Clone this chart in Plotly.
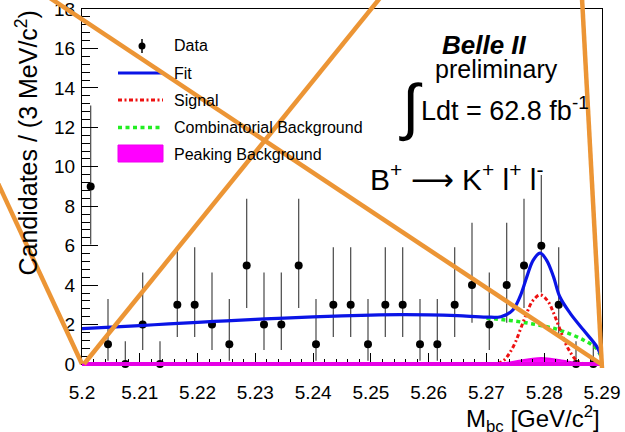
import plotly.graph_objects as go

# ---------------- data ----------------
bin_centers = [5.2015, 5.2045, 5.2075, 5.2105, 5.2135, 5.2165, 5.2195, 5.2225, 5.2255, 5.2285,
               5.2315, 5.2345, 5.2375, 5.2405, 5.2435, 5.2465, 5.2495, 5.2525, 5.2555, 5.2585,
               5.2615, 5.2645, 5.2675, 5.2705, 5.2735, 5.2765, 5.2795, 5.2825, 5.2855, 5.2885]
counts = [9, 1, 0, 2, 0, 3, 3, 2, 1, 5,
          2, 2, 5, 1, 3, 3, 1, 3, 3, 1,
          1, 3, 4, 2, 4, 5, 6, 3, 0, 0]
err_up = [4.11, 2.30, 1.15, 2.64, 1.15, 2.92, 2.92, 2.64, 2.30, 3.38,
          2.64, 2.64, 3.38, 2.30, 2.92, 2.92, 2.30, 2.92, 2.92, 2.30,
          2.30, 2.92, 3.16, 2.64, 3.16, 3.38, 3.58, 2.92, 1.15, 1.15]
err_dn = [2.94, 0.83, 0.00, 1.29, 0.00, 1.63, 1.63, 1.29, 0.83, 2.16,
          1.29, 1.29, 2.16, 0.83, 1.63, 1.63, 0.83, 1.63, 1.63, 0.83,
          0.83, 1.63, 1.91, 1.29, 1.91, 2.16, 2.38, 1.63, 0.00, 0.00]

fit_x = [5.200, 5.205, 5.210, 5.215, 5.220, 5.225, 5.230, 5.235, 5.240, 5.245,
         5.250, 5.255, 5.260, 5.265, 5.270, 5.2725, 5.2745, 5.2758, 5.2770, 5.2781,
         5.2793, 5.2804, 5.2816, 5.2827, 5.2845, 5.2868, 5.2891, 5.2900]
fit_y = [1.79, 1.87, 1.95, 2.03, 2.11, 2.19, 2.26, 2.33, 2.39, 2.44,
         2.48, 2.50, 2.49, 2.45, 2.38, 2.40, 2.72, 3.41, 4.43, 5.27,
         5.62, 5.27, 4.43, 3.41, 2.57, 1.72, 0.88, 0.30]

sig_x = [5.2720, 5.2730, 5.2740, 5.2750, 5.2760, 5.2770, 5.2780, 5.2793,
         5.2806, 5.2816, 5.2826, 5.2836, 5.2846, 5.2856, 5.2866]
sig_y = [0.03, 0.18, 0.55, 1.10, 1.85, 2.60, 3.20, 3.50,
         3.20, 2.60, 1.85, 1.10, 0.55, 0.18, 0.03]

comb_x = [5.2700, 5.2720, 5.2740, 5.2760, 5.2780, 5.2800, 5.2820, 5.2840,
          5.2860, 5.2870, 5.2880, 5.2890, 5.2900]
comb_y = [2.32, 2.27, 2.21, 2.13, 2.03, 1.92, 1.78, 1.58,
          1.33, 1.18, 1.02, 0.80, 0.30]

peak_x = [5.2000, 5.2700, 5.2720, 5.2740, 5.2760, 5.2780, 5.2795, 5.2810,
          5.2830, 5.2850, 5.2870, 5.2900]
peak_y = [0.00, 0.00, 0.02, 0.08, 0.18, 0.27, 0.30, 0.27,
          0.18, 0.08, 0.02, 0.00]

legend_labels = ["Data", "Fit", "Signal", "Combinatorial Background", "Peaking Background"]

FONT = "Liberation Sans, Arial, Helvetica, sans-serif"
ORANGE = "#EC9535"

# plot area in pixels: x 82..602, y 9..364
L, R, T, B = 82, 602, 9, 364
def px(x):
    return (x - L) / (R - L)
def py(y):
    return (B - y) / (B - T)

fig = go.Figure()

fig.add_trace(go.Scatter(
    x=bin_centers, y=counts, mode="markers",
    marker=dict(color="black", size=8),
    error_y=dict(type="data", symmetric=False, array=err_up, arrayminus=err_dn,
                 color="#555555", thickness=1.3, width=0),
    cliponaxis=False, showlegend=False))

fig.add_trace(go.Scatter(
    x=comb_x, y=comb_y, mode="lines", line=dict(color="#22ee22", width=3.5, dash="4px,3.5px", shape="spline"),
    showlegend=False))
fig.add_trace(go.Scatter(
    x=sig_x, y=sig_y, mode="lines", line=dict(color="#ee1111", width=3, dash="4px,2.5px,2px,2.5px", shape="spline"),
    showlegend=False))
fig.add_trace(go.Scatter(
    x=fit_x, y=fit_y, mode="lines", line=dict(color="#0a14e6", width=3.2, shape="spline"),
    showlegend=False))
fig.add_trace(go.Scatter(
    x=peak_x, y=peak_y, mode="lines", fill="tozeroy", fillcolor="#ff00ff",
    line=dict(color="#ee00ee", width=2, shape="spline"), showlegend=False))

shapes = []
# baseline of the peaking background component
shapes.append(dict(type="line", xref="x", yref="paper", x0=peak_x[0], x1=peak_x[-1], y0=0, y1=0,
                   line=dict(color="#e600e6", width=4), layer="above"))

# ---- manual legend ----
rows = [46, 73, 100, 127.5, 154]
shapes.append(dict(type="line", xref="paper", yref="paper", x0=px(142), x1=px(142),
                   y0=py(39), y1=py(53), line=dict(color="black", width=1.5)))
shapes.append(dict(type="circle", xref="paper", yref="paper", x0=px(138.5), x1=px(145.5),
                   y0=py(42.5), y1=py(49.5), fillcolor="black", line=dict(color="black", width=0)))
shapes.append(dict(type="line", xref="paper", yref="paper", x0=px(118), x1=px(163),
                   y0=py(rows[1]), y1=py(rows[1]), line=dict(color="#0a14e6", width=3.2)))
shapes.append(dict(type="line", xref="paper", yref="paper", x0=px(118), x1=px(163),
                   y0=py(rows[2]), y1=py(rows[2]), line=dict(color="#ee1111", width=3, dash="4px,2.5px,2px,2.5px")))
shapes.append(dict(type="line", xref="paper", yref="paper", x0=px(118), x1=px(163),
                   y0=py(rows[3]), y1=py(rows[3]), line=dict(color="#22ee22", width=3.5, dash="4px,3.5px")))
shapes.append(dict(type="rect", xref="paper", yref="paper", x0=px(118), x1=px(163),
                   y0=py(162), y1=py(145), fillcolor="#ff00ff", line=dict(color="#ee00ee", width=1)))

# ---- orange overlay strokes ----
for (x0, y0, x1, y1) in [(50, -2, 601, 364), (84, 364, 380, -2), (-10, 166, 82, 364), (582, -2, 602, 368)]:
    shapes.append(dict(type="line", xref="paper", yref="paper", x0=px(x0), y0=py(y0), x1=px(x1), y1=py(y1),
                       line=dict(color=ORANGE, width=4.5), layer="above"))

annotations = []
for lab, yy in zip(legend_labels, rows):
    annotations.append(dict(text=lab, xref="paper", yref="paper", x=px(172), y=py(yy),
                            xanchor="left", yanchor="middle", showarrow=False,
                            font=dict(family=FONT, size=16, color="black")))

ARROW = '<span style="font-family:DejaVu Sans">\u27f6</span>'
annotations += [
    dict(text="<b><i>Belle II</i></b>", xref="paper", yref="paper", x=px(484), y=py(45),
         xanchor="center", yanchor="middle", showarrow=False, font=dict(family=FONT, size=26, color="black")),
    dict(text="preliminary", xref="paper", yref="paper", x=px(496), y=py(69),
         xanchor="center", yanchor="middle", showarrow=False, font=dict(family=FONT, size=25, color="black")),
    dict(text="\u222b", xref="paper", yref="paper", x=px(411), y=py(107),
         xanchor="center", yanchor="middle", showarrow=False, font=dict(family=FONT, size=62, color="black")),
    dict(text="Ldt = 62.8 fb<sup>-1</sup>", xref="paper", yref="paper", x=px(419), y=py(118),
         xanchor="left", yanchor="bottom", showarrow=False, font=dict(family=FONT, size=27, color="black"),
         yshift=-10),
    dict(text="B<sup>+</sup> " + ARROW + " K<sup>+</sup> l<sup>+</sup> l<sup>-</sup>", xref="paper", yref="paper",
         x=px(457), y=py(177), xanchor="center", yanchor="middle", showarrow=False,
         font=dict(family=FONT, size=30, color="black")),
    # axis titles
    dict(text="Candidates / (3 MeV/c<sup>2</sup>)", xref="paper", yref="paper", x=px(26), y=py(9),
         xanchor="center", yanchor="top", textangle=-90, showarrow=False,
         font=dict(family=FONT, size=25, color="black")),
    dict(text="M<sub>bc</sub> [GeV/c<sup>2</sup>]", xref="paper", yref="paper", x=1.0, y=py(419),
         xanchor="right", yanchor="middle", showarrow=False,
         font=dict(family=FONT, size=24, color="black")),
]

fig.update_layout(
    width=625, height=432,
    margin=dict(l=L, r=625 - R, t=T, b=432 - B, autoexpand=False),
    paper_bgcolor="white", plot_bgcolor="white",
    font=dict(family=FONT, color="black"),
    shapes=shapes, annotations=annotations,
    showlegend=False,
)
fig.update_xaxes(range=[5.2, 5.29], dtick=0.01, tick0=5.2, ticks="inside", ticklen=11, tickwidth=1,
                 tickcolor="black", showline=True, linecolor="black", linewidth=1, mirror=True,
                 showgrid=False, zeroline=False, tickfont=dict(family=FONT, size=19, color="black"),
                 ticklabelstandoff=11, ticklabeloverflow="allow", automargin=False,
                 minor=dict(dtick=0.002, ticks="inside", ticklen=5.5, tickcolor="black", tickwidth=1, showgrid=False))
fig.update_yaxes(range=[0, 18.0005], dtick=2, tick0=0, ticks="inside", ticklen=16, tickwidth=1,
                 tickcolor="black", showline=True, linecolor="black", linewidth=1, mirror=True,
                 showgrid=False, zeroline=False, tickfont=dict(family=FONT, size=19, color="black"),
                 ticklabelstandoff=2, ticklabeloverflow="allow", automargin=False,
                 minor=dict(dtick=0.4, ticks="inside", ticklen=8, tickcolor="black", tickwidth=1, showgrid=False))

fig.write_html("out.html")
